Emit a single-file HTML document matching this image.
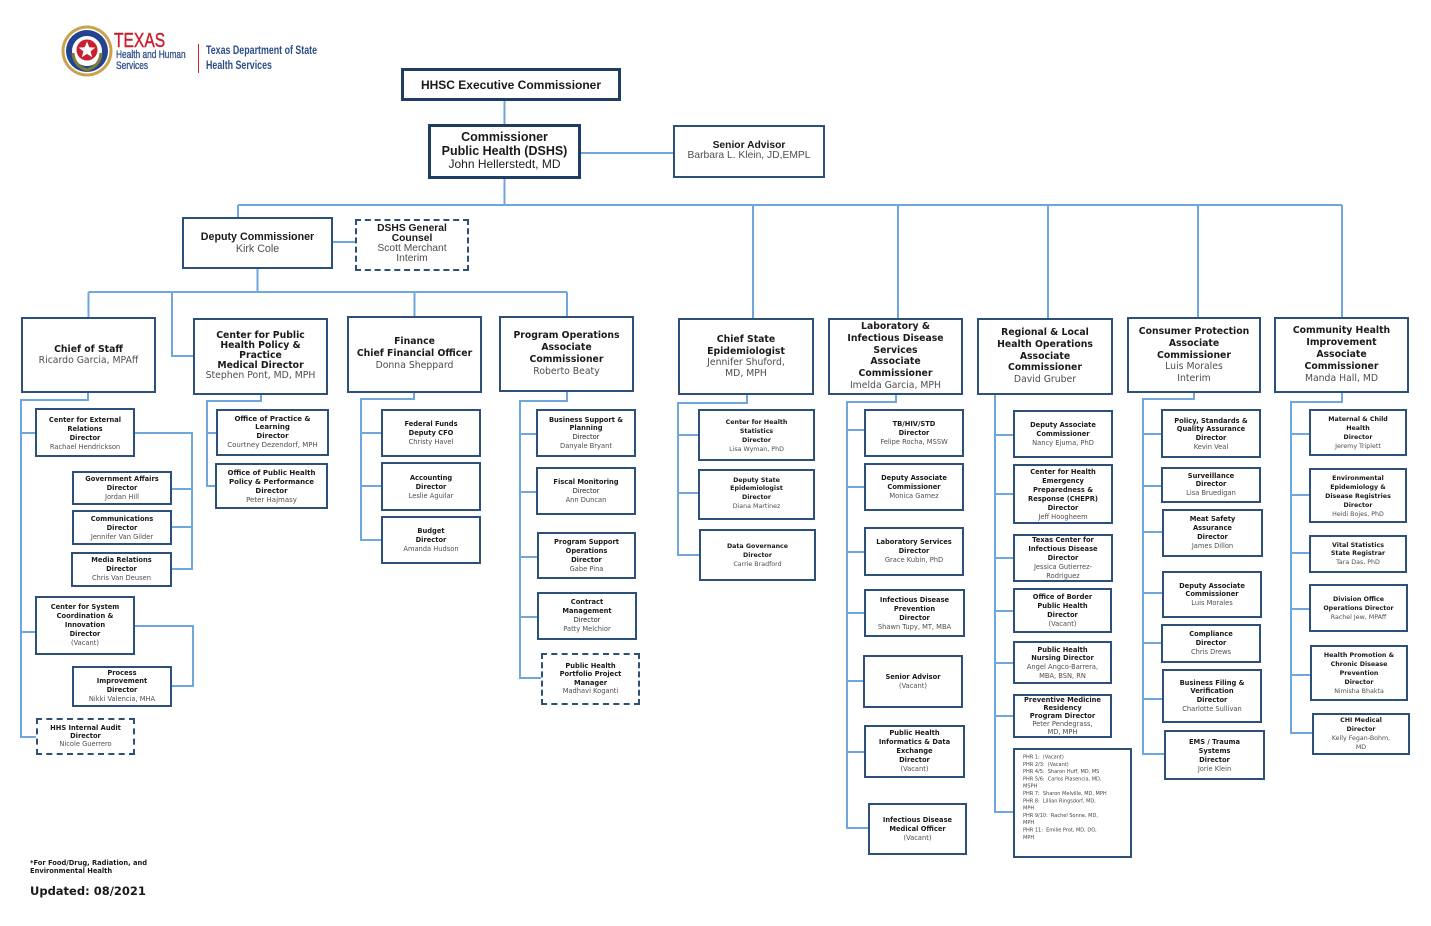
<!DOCTYPE html>
<html><head><meta charset="utf-8">
<style>
html,body{margin:0;padding:0;background:#fff;}
body{width:1431px;height:926px;position:relative;overflow:hidden;font-family:"DejaVu Sans",sans-serif;}
.bx{position:absolute;box-sizing:border-box;border:2px solid #2c5079;background:#fff;}
.th{border:3px solid #1f3d63;}
.ds{border-style:dashed;}
.t{position:absolute;text-align:center;white-space:nowrap;color:#1a1a1a;font-family:"DejaVu Sans",sans-serif;}
.t b{font-weight:bold;color:#1a1a1a;}
.t span{color:#4e4e4e;}
.L{font-family:"Liberation Sans",sans-serif;}
.s{font-size:6.7px;}
.s3{font-size:6.3px;}
.s7{font-size:7px;}
.m{font-size:9.3px;}
svg.c{position:absolute;left:0;top:0;}
</style></head><body>

<svg class="c" width="1431" height="926" viewBox="0 0 1431 926">
<g fill="none" stroke="#6fa6dc" stroke-width="2">
<path d="M504.5 101V124"/>
<path d="M581 153H673"/>
<path d="M504.5 179V205"/>
<path d="M238 205H1342"/>
<path d="M238 205V217"/>
<path d="M753 205V318M898 205V318M1048 205V318M1198 205V317M1342 205V317"/>
<path d="M333 242H355"/>
<path d="M257.5 269V292"/>
<path d="M88.5 292H567"/>
<path d="M88.5 292V317M172 292V356H193M414.5 292V316M567 292V316"/>
<path d="M88 393V400H21V737H36M21 433H35M21 632H35"/>
<path d="M135 433H192V569H172M192 489H172M192 527H172"/>
<path d="M135 626H193V686H172"/>
<path d="M261 395V401H207V486H215M207 433H216"/>
<path d="M414 393V399H361V540H381M361 433H381M361 486H381"/>
<path d="M567 392V401H520V678H541M520 434H536M520 492H536M520 557H537M520 617H537"/>
<path d="M747 395V403H678V555H699M678 435H698M678 493H698"/>
<path d="M896 395V402H847V828H868M847 430H864M847 487H864M847 552H864M847 613H864M847 681H863M847 752H864"/>
<path d="M995 395V812H1013M995 435H1013M995 494H1013M995 558H1013M995 611H1013M995 663H1013M995 716H1013"/>
<path d="M1194 393V399H1143V754H1164M1143 434H1161M1143 486H1161M1143 532H1162M1143 593H1162M1143 643H1161M1143 699H1162"/>
<path d="M1342 393V402H1291V733H1312M1291 434H1309M1291 495H1309M1291 553H1309M1291 609H1309M1291 675H1310"/>
</g>
</svg>

<!-- Logo -->
<svg style="position:absolute;left:61px;top:25px" width="52" height="52" viewBox="0 0 52 52">
<circle cx="26" cy="26" r="25.5" fill="#c9a24c"/>
<circle cx="26" cy="26" r="22.5" fill="#fff"/>
<circle cx="26" cy="26" r="21" fill="#23428f"/>
<circle cx="26" cy="26" r="15" fill="#fff"/>
<path d="M12 28 Q13 41 26 45 Q39 41 40 28" fill="none" stroke="#7d7d35" stroke-width="3"/>
<circle cx="26" cy="25" r="10.5" fill="#c8202f"/>
<polygon points="26,16.5 28.3,22.3 34.3,22.6 29.6,26.4 31.2,32.2 26,28.9 20.8,32.2 22.4,26.4 17.7,22.6 23.7,22.3" fill="#fff"/>
</svg>
<div style="position:absolute;left:114px;top:30px;font-family:'Liberation Sans',sans-serif;font-size:20px;color:#c8202f;transform:scaleX(0.78);transform-origin:left top;line-height:22px;-webkit-text-stroke:0.4px #c8202f;">TEXAS</div>
<div style="position:absolute;left:116px;top:50px;font-family:'Liberation Sans',sans-serif;font-size:11px;color:#2c4e8a;transform:scaleX(0.76);transform-origin:left top;line-height:11px;-webkit-text-stroke:0.3px #2c4e8a;">Health and Human<br>Services</div>
<div style="position:absolute;left:198px;top:44px;width:1px;height:29px;background:#c8202f;"></div>
<div style="position:absolute;left:206px;top:44px;font-family:'Liberation Sans',sans-serif;font-weight:bold;font-size:11.5px;color:#2c4e8a;transform:scaleX(0.77);transform-origin:left top;line-height:14.5px;">Texas Department of State<br>Health Services</div>

<!-- Top boxes -->
<div class="bx th" style="left:401px;top:68px;width:220px;height:33px"></div>
<div class="t L" style="left:401px;top:78px;width:220px;line-height:14px;font-size:12px"><b>HHSC Executive Commissioner</b></div>

<div class="bx th" style="left:428px;top:124px;width:153px;height:55px"></div>
<div class="t L" style="left:428px;top:131.25px;width:153px;line-height:13.5px;font-size:12.5px"><b>Commissioner</b><br><b>Public Health (DSHS)</b><br><span style="font-size:12px;color:#222">John Hellerstedt, MD</span></div>

<div class="bx" style="left:673px;top:125px;width:152px;height:53px"></div>
<div class="t L" style="left:673px;top:140.75px;width:152px;line-height:10.5px;font-size:10.3px"><b>Senior Advisor</b><br><span>Barbara L. Klein, JD,EMPL</span></div>

<div class="bx" style="left:182px;top:217px;width:151px;height:52px"></div>
<div class="t L" style="left:182px;top:231px;width:151px;line-height:12px;font-size:10.7px"><b>Deputy Commissioner</b><br><span>Kirk Cole</span></div>

<div class="bx ds" style="left:355px;top:219px;width:114px;height:52px"></div>
<div class="t L" style="left:355px;top:224px;width:114px;line-height:10px;font-size:10.3px"><b>DSHS General</b><br><b>Counsel</b><br><span>Scott Merchant</span><br><span>Interim</span></div>

<!-- Mid-level boxes -->
<div class="bx" style="left:21px;top:317px;width:135px;height:76px"></div>
<div class="t m" style="left:21px;top:343.5px;width:135px;line-height:11px"><b>Chief of Staff</b><br><span>Ricardo Garcia, MPAff</span></div>

<div class="bx" style="left:193px;top:318px;width:135px;height:77px"></div>
<div class="t m" style="left:193px;top:331px;width:135px;line-height:10px"><b>Center for Public</b><br><b>Health Policy &amp;</b><br><b>Practice</b><br><b>Medical Director</b><br><span>Stephen Pont, MD, MPH</span></div>

<div class="bx" style="left:347px;top:316px;width:135px;height:77px"></div>
<div class="t m" style="left:347px;top:336px;width:135px;line-height:12px"><b>Finance</b><br><b>Chief Financial Officer</b><br><span>Donna Sheppard</span></div>

<div class="bx" style="left:499px;top:316px;width:135px;height:76px"></div>
<div class="t m" style="left:499px;top:330px;width:135px;line-height:12px"><b>Program Operations</b><br><b>Associate</b><br><b>Commissioner</b><br><span>Roberto Beaty</span></div>

<div class="bx" style="left:678px;top:318px;width:136px;height:77px"></div>
<div class="t m" style="left:678px;top:334.35px;width:136px;line-height:11.3px"><b>Chief State</b><br><b>Epidemiologist</b><br><span>Jennifer Shuford,</span><br><span>MD, MPH</span></div>

<div class="bx" style="left:828px;top:318px;width:135px;height:77px"></div>
<div class="t m" style="left:828px;top:321.1px;width:135px;line-height:11.8px"><b>Laboratory &amp;</b><br><b>Infectious Disease</b><br><b>Services</b><br><b>Associate</b><br><b>Commissioner</b><br><span>Imelda Garcia, MPH</span></div>

<div class="bx" style="left:977px;top:318px;width:136px;height:77px"></div>
<div class="t m" style="left:977px;top:327.1px;width:136px;line-height:11.8px"><b>Regional &amp; Local</b><br><b>Health Operations</b><br><b>Associate</b><br><b>Commissioner</b><br><span>David Gruber</span></div>

<div class="bx" style="left:1127px;top:317px;width:134px;height:76px"></div>
<div class="t m" style="left:1127px;top:326.1px;width:134px;line-height:11.8px"><b>Consumer Protection</b><br><b>Associate</b><br><b>Commissioner</b><br><span>Luis Morales</span><br><span>Interim</span></div>

<div class="bx" style="left:1274px;top:317px;width:135px;height:76px"></div>
<div class="t m" style="left:1274px;top:325px;width:135px;line-height:12px"><b>Community Health</b><br><b>Improvement</b><br><b>Associate</b><br><b>Commissioner</b><br><span>Manda Hall, MD</span></div>

<!-- Chief of Staff group -->
<div class="bx" style="left:35px;top:408px;width:100px;height:49px"></div>
<div class="t s" style="left:35px;top:415.5px;width:100px;line-height:9px"><b>Center for External</b><br><b>Relations</b><br><b>Director</b><br><span>Rachael Hendrickson</span></div>

<div class="bx" style="left:72px;top:471px;width:100px;height:34px"></div>
<div class="t s" style="left:72px;top:474.5px;width:100px;line-height:9px"><b>Government Affairs</b><br><b>Director</b><br><span>Jordan Hill</span></div>

<div class="bx" style="left:72px;top:510px;width:100px;height:35px"></div>
<div class="t s" style="left:72px;top:514.5px;width:100px;line-height:9px"><b>Communications</b><br><b>Director</b><br><span>Jennifer Van Gilder</span></div>

<div class="bx" style="left:71px;top:552px;width:101px;height:35px"></div>
<div class="t s" style="left:71px;top:555.5px;width:101px;line-height:9px"><b>Media Relations</b><br><b>Director</b><br><span>Chris Van Deusen</span></div>

<div class="bx" style="left:35px;top:596px;width:100px;height:59px"></div>
<div class="t s" style="left:35px;top:602.5px;width:100px;line-height:9px"><b>Center for System</b><br><b>Coordination &amp;</b><br><b>Innovation</b><br><b>Director</b><br><span>(Vacant)</span></div>

<div class="bx" style="left:72px;top:666px;width:100px;height:41px"></div>
<div class="t s" style="left:72px;top:668.6px;width:100px;line-height:8.8px"><b>Process</b><br><b>Improvement</b><br><b>Director</b><br><span>Nikki Valencia, MHA</span></div>

<div class="bx ds" style="left:36px;top:718px;width:99px;height:37px"></div>
<div class="t s" style="left:36px;top:724px;width:99px;line-height:8px"><b>HHS Internal Audit</b><br><b>Director</b><br><span>Nicole Guerrero</span></div>

<!-- CPHP group -->
<div class="bx" style="left:216px;top:409px;width:113px;height:47px"></div>
<div class="t s7" style="left:216px;top:414.65px;width:113px;line-height:8.7px"><b>Office of Practice &amp;</b><br><b>Learning</b><br><b>Director</b><br><span>Courtney Dezendorf, MPH</span></div>

<div class="bx" style="left:215px;top:463px;width:113px;height:46px"></div>
<div class="t s7" style="left:215px;top:468.5px;width:113px;line-height:9px"><b>Office of Public Health</b><br><b>Policy &amp; Performance</b><br><b>Director</b><br><span>Peter Hajmasy</span></div>

<!-- Finance group -->
<div class="bx" style="left:381px;top:409px;width:100px;height:48px"></div>
<div class="t s" style="left:381px;top:419.5px;width:100px;line-height:9px"><b>Federal Funds</b><br><b>Deputy CFO</b><br><span>Christy Havel</span></div>

<div class="bx" style="left:381px;top:462px;width:100px;height:49px"></div>
<div class="t s" style="left:381px;top:473.5px;width:100px;line-height:9px"><b>Accounting</b><br><b>Director</b><br><span>Leslie Aguilar</span></div>

<div class="bx" style="left:381px;top:516px;width:100px;height:48px"></div>
<div class="t s" style="left:381px;top:526.5px;width:100px;line-height:9px"><b>Budget</b><br><b>Director</b><br><span>Amanda Hudson</span></div>

<!-- Program Ops group -->
<div class="bx" style="left:536px;top:409px;width:100px;height:48px"></div>
<div class="t s" style="left:536px;top:415.65px;width:100px;line-height:8.7px"><b>Business Support &amp;</b><br><b>Planning</b><br><span style="color:#222">Director</span><br><span>Danyale Bryant</span></div>

<div class="bx" style="left:536px;top:467px;width:100px;height:48px"></div>
<div class="t s" style="left:536px;top:477.5px;width:100px;line-height:9px"><b>Fiscal Monitoring</b><br><span style="color:#222">Director</span><br><span>Ann Duncan</span></div>

<div class="bx" style="left:537px;top:532px;width:99px;height:47px"></div>
<div class="t s" style="left:537px;top:537.5px;width:99px;line-height:9px"><b>Program Support</b><br><b>Operations</b><br><b>Director</b><br><span>Gabe Pina</span></div>

<div class="bx" style="left:537px;top:592px;width:100px;height:48px"></div>
<div class="t s" style="left:537px;top:597.5px;width:100px;line-height:9px"><b>Contract</b><br><b>Management</b><br><span style="color:#222">Director</span><br><span>Patty Melchior</span></div>

<div class="bx ds" style="left:541px;top:653px;width:99px;height:52px"></div>
<div class="t s" style="left:541px;top:661.8px;width:99px;line-height:8.4px"><b>Public Health</b><br><b>Portfolio Project</b><br><b>Manager</b><br><span>Madhavi Koganti</span></div>

<!-- Chief Epi group -->
<div class="bx" style="left:698px;top:409px;width:117px;height:52px"></div>
<div class="t s3" style="left:698px;top:417.5px;width:117px;line-height:9px"><b>Center for Health</b><br><b>Statistics</b><br><b>Director</b><br><span>Lisa Wyman, PhD</span></div>

<div class="bx" style="left:698px;top:469px;width:117px;height:51px"></div>
<div class="t s3" style="left:698px;top:476.65px;width:117px;line-height:8.7px"><b>Deputy State</b><br><b>Epidemiologist</b><br><b>Director</b><br><span>Diana Martinez</span></div>

<div class="bx" style="left:699px;top:529px;width:117px;height:52px"></div>
<div class="t s3" style="left:699px;top:541.5px;width:117px;line-height:9px"><b>Data Governance</b><br><b>Director</b><br><span>Carrie Bradford</span></div>

<!-- Lab group -->
<div class="bx" style="left:864px;top:409px;width:100px;height:48px"></div>
<div class="t s" style="left:864px;top:419.5px;width:100px;line-height:9px"><b>TB/HIV/STD</b><br><b>Director</b><br><span>Felipe Rocha, MSSW</span></div>

<div class="bx" style="left:864px;top:463px;width:100px;height:48px"></div>
<div class="t s" style="left:864px;top:473.5px;width:100px;line-height:9px"><b>Deputy Associate</b><br><b>Commissioner</b><br><span>Monica Gamez</span></div>

<div class="bx" style="left:864px;top:527px;width:100px;height:49px"></div>
<div class="t s" style="left:864px;top:537.5px;width:100px;line-height:9px"><b>Laboratory Services</b><br><b>Director</b><br><span>Grace Kubin, PhD</span></div>

<div class="bx" style="left:864px;top:589px;width:101px;height:48px"></div>
<div class="t s" style="left:864px;top:595.5px;width:101px;line-height:9px"><b>Infectious Disease</b><br><b>Prevention</b><br><b>Director</b><br><span>Shawn Tupy, MT, MBA</span></div>

<div class="bx" style="left:863px;top:655px;width:100px;height:53px"></div>
<div class="t s" style="left:863px;top:672.5px;width:100px;line-height:9px"><b>Senior Advisor</b><br><span>(Vacant)</span></div>

<div class="bx" style="left:864px;top:725px;width:101px;height:53px"></div>
<div class="t s" style="left:864px;top:728.5px;width:101px;line-height:9px"><b>Public Health</b><br><b>Informatics &amp; Data</b><br><b>Exchange</b><br><b>Director</b><br><span>(Vacant)</span></div>

<div class="bx" style="left:868px;top:803px;width:99px;height:52px"></div>
<div class="t s" style="left:868px;top:815.5px;width:99px;line-height:9px"><b>Infectious Disease</b><br><b>Medical Officer</b><br><span>(Vacant)</span></div>

<!-- Regional group -->
<div class="bx" style="left:1013px;top:410px;width:100px;height:48px"></div>
<div class="t s" style="left:1013px;top:420.5px;width:100px;line-height:9px"><b>Deputy Associate</b><br><b>Commissioner</b><br><span>Nancy Ejuma, PhD</span></div>

<div class="bx" style="left:1013px;top:464px;width:100px;height:60px"></div>
<div class="t s" style="left:1013px;top:467.5px;width:100px;line-height:9px"><b>Center for Health</b><br><b>Emergency</b><br><b>Preparedness &amp;</b><br><b>Response (CHEPR)</b><br><b>Director</b><br><span>Jeff Hoogheem</span></div>

<div class="bx" style="left:1013px;top:534px;width:100px;height:48px"></div>
<div class="t s" style="left:1013px;top:535.5px;width:100px;line-height:9px"><b>Texas Center for</b><br><b>Infectious Disease</b><br><b>Director</b><br><span>Jessica Gutierrez-</span><br><span>Rodriguez</span></div>

<div class="bx" style="left:1013px;top:588px;width:99px;height:45px"></div>
<div class="t s" style="left:1013px;top:592.5px;width:99px;line-height:9px"><b>Office of Border</b><br><b>Public Health</b><br><b>Director</b><br><span>(Vacant)</span></div>

<div class="bx" style="left:1013px;top:641px;width:99px;height:43px"></div>
<div class="t s" style="left:1013px;top:645.65px;width:99px;line-height:8.7px"><b>Public Health</b><br><b>Nursing Director</b><br><span>Angel Angco-Barrera,</span><br><span>MBA, BSN, RN</span></div>

<div class="bx" style="left:1013px;top:694px;width:99px;height:44px"></div>
<div class="t s" style="left:1013px;top:696px;width:99px;line-height:8px"><b>Preventive Medicine</b><br><b>Residency</b><br><b>Program Director</b><br><span>Peter Pendegrass,</span><br><span>MD, MPH</span></div>

<div class="bx" style="left:1013px;top:748px;width:119px;height:110px"></div>
<div style="position:absolute;left:1023px;top:754.35px;font-family:'DejaVu Sans',sans-serif;font-size:10px;line-height:14.6px;color:#444;white-space:pre;transform:scale(0.5);transform-origin:left top;">PHR 1:  (Vacant)
PHR 2/3:  (Vacant)
PHR 4/5:  Sharon Huff, MD, MS
PHR 5/6:  Carlos Plasencia, MD,
MSPH
PHR 7:  Sharon Melville, MD, MPH
PHR 8:  Lillian Ringsdorf, MD,
MPH
PHR 9/10:  Rachel Sonne, MD,
MPH
PHR 11:  Emilie Prot, MD, DO,
MPH</div>

<!-- Consumer group -->
<div class="bx" style="left:1161px;top:409px;width:100px;height:49px"></div>
<div class="t s" style="left:1161px;top:416.65px;width:100px;line-height:8.7px"><b>Policy, Standards &amp;</b><br><b>Quality Assurance</b><br><b>Director</b><br><span>Kevin Veal</span></div>

<div class="bx" style="left:1161px;top:467px;width:100px;height:36px"></div>
<div class="t s" style="left:1161px;top:471.75px;width:100px;line-height:8.5px"><b>Surveillance</b><br><b>Director</b><br><span>Lisa Bruedigan</span></div>

<div class="bx" style="left:1162px;top:509px;width:101px;height:48px"></div>
<div class="t s" style="left:1162px;top:514.5px;width:101px;line-height:9px"><b>Meat Safety</b><br><b>Assurance</b><br><b>Director</b><br><span>James Dillon</span></div>

<div class="bx" style="left:1162px;top:571px;width:100px;height:47px"></div>
<div class="t s" style="left:1162px;top:581.65px;width:100px;line-height:8.7px"><b>Deputy Associate</b><br><b>Commissioner</b><br><span>Luis Morales</span></div>

<div class="bx" style="left:1161px;top:624px;width:100px;height:39px"></div>
<div class="t s" style="left:1161px;top:629.5px;width:100px;line-height:9px"><b>Compliance</b><br><b>Director</b><br><span>Chris Drews</span></div>

<div class="bx" style="left:1162px;top:669px;width:100px;height:54px"></div>
<div class="t s" style="left:1162px;top:678.65px;width:100px;line-height:8.7px"><b>Business Filing &amp;</b><br><b>Verification</b><br><b>Director</b><br><span>Charlotte Sullivan</span></div>

<div class="bx" style="left:1164px;top:730px;width:101px;height:50px"></div>
<div class="t s" style="left:1164px;top:737.5px;width:101px;line-height:9px"><b>EMS / Trauma</b><br><b>Systems</b><br><b>Director</b><br><span>Jorie Klein</span></div>

<!-- Community group -->
<div class="bx" style="left:1309px;top:409px;width:98px;height:47px"></div>
<div class="t s3" style="left:1309px;top:414.5px;width:98px;line-height:9px"><b>Maternal &amp; Child</b><br><b>Health</b><br><b>Director</b><br><span>Jeremy Triplett</span></div>

<div class="bx" style="left:1309px;top:468px;width:98px;height:55px"></div>
<div class="t s3" style="left:1309px;top:473.5px;width:98px;line-height:9px"><b>Environmental</b><br><b>Epidemiology &amp;</b><br><b>Disease Registries</b><br><b>Director</b><br><span>Heidi Bojes, PhD</span></div>

<div class="bx" style="left:1309px;top:535px;width:98px;height:38px"></div>
<div class="t s3" style="left:1309px;top:541.75px;width:98px;line-height:8.5px"><b>Vital Statistics</b><br><b>State Registrar</b><br><span>Tara Das, PhD</span></div>

<div class="bx" style="left:1309px;top:584px;width:99px;height:48px"></div>
<div class="t s3" style="left:1309px;top:594.5px;width:99px;line-height:9px"><b>Division Office</b><br><b>Operations Director</b><br><span>Rachel Jew, MPAff</span></div>

<div class="bx" style="left:1310px;top:645px;width:98px;height:56px"></div>
<div class="t s3" style="left:1310px;top:650.5px;width:98px;line-height:9px"><b>Health Promotion &amp;</b><br><b>Chronic Disease</b><br><b>Prevention</b><br><b>Director</b><br><span>Nimisha Bhakta</span></div>

<div class="bx" style="left:1312px;top:713px;width:98px;height:42px"></div>
<div class="t s3" style="left:1312px;top:715.5px;width:98px;line-height:9px"><b>CHI Medical</b><br><b>Director</b><br><span>Kelly Fegan-Bohm,</span><br><span>MD</span></div>

<!-- Footer -->
<div style="position:absolute;left:30px;top:859px;font-family:'DejaVu Sans',sans-serif;font-weight:bold;font-size:6.7px;line-height:8px;color:#1a1a1a;white-space:nowrap;">*For Food/Drug, Radiation, and<br>Environmental Health</div>
<div style="position:absolute;left:30px;top:884px;font-family:'DejaVu Sans',sans-serif;font-weight:bold;font-size:11.5px;line-height:14px;color:#1a1a1a;white-space:nowrap;">Updated: 08/2021</div>

</body></html>
